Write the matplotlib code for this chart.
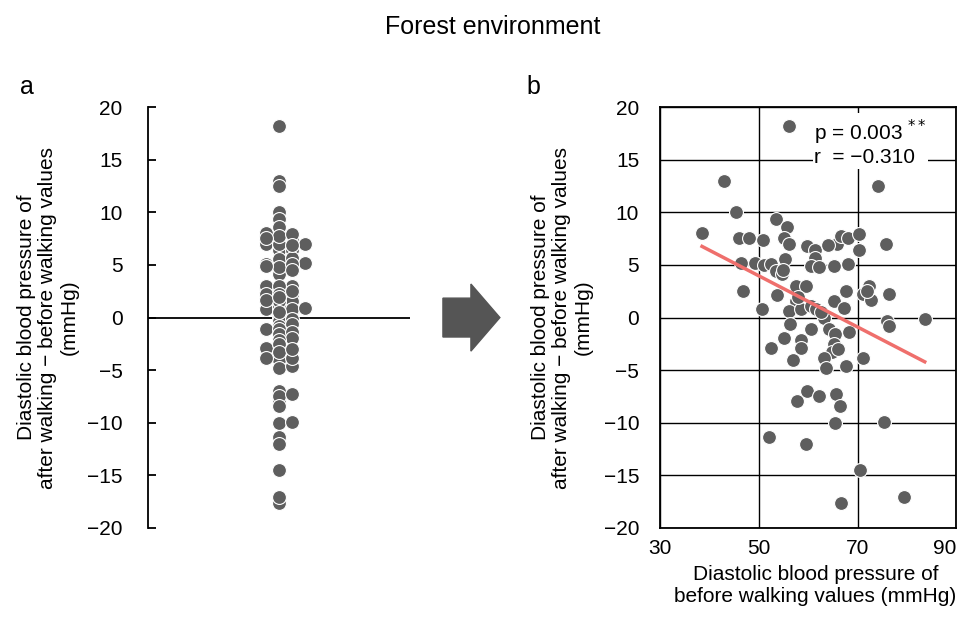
import numpy as np
import matplotlib
matplotlib.use('Agg')
import matplotlib.pyplot as plt
from matplotlib.patches import FancyArrow

plt.rcParams['font.family'] = ['Liberation Sans', 'DejaVu Sans']

# diastolic BP before walking (mmHg)
before = [56.1, 42.9, 74.2, 45.4, 38.5, 53.4, 55.8, 45.9, 48.0, 50.9,
          55.1, 56.1, 75.8, 59.8, 61.4, 65.9, 66.6, 68.0, 70.3, 70.3,
          46.3, 49.3, 51.0, 52.4, 53.4, 54.7, 55.4, 61.3, 60.5, 62.1,
          65.2, 68.0, 46.8, 50.7, 53.7, 57.5, 59.5, 57.5, 56.1, 58.5,
          60.5, 61.5, 63.2, 65.2, 67.6, 67.3, 71.0, 72.4, 72.7, 76.4,
          75.9, 76.3, 83.6, 56.4, 60.5, 64.2, 65.5, 68.3, 55.1, 58.5,
          58.5, 52.5, 57.0, 65.2, 64.9, 63.2, 63.6, 67.6, 71.0, 57.8,
          59.8, 62.2, 65.7, 66.5, 65.5, 75.4, 52.0, 59.5, 70.5, 66.6,
          79.5, 55.0, 58.0, 62.5, 66.0, 72.0, 64.0]

# after - before difference (mmHg)
diff = [18.2, 13.0, 12.5, 10.0, 8.0, 9.4, 8.6, 7.6, 7.6, 7.4,
        7.6, 7.0, 7.0, 6.8, 6.4, 7.0, 7.8, 7.6, 7.9, 6.4,
        5.2, 5.2, 5.0, 5.1, 4.4, 4.1, 5.6, 5.7, 4.9, 4.8,
        4.9, 5.1, 2.5, 0.8, 2.1, 3.0, 3.0, 1.6, 0.6, 0.8,
        1.1, 0.8, 0.0, 1.6, 2.5, 0.9, 2.2, 3.0, 1.7, 2.2,
        -0.3, -0.8, -0.1, -0.6, -1.1, -1.1, -1.6, -1.4, -1.9, -2.1,
        -2.9, -2.9, -4.0, -2.5, -3.3, -3.8, -4.8, -4.6, -3.8, -7.9,
        -7.0, -7.5, -7.3, -8.4, -10.0, -9.9, -11.4, -12.0, -14.5, -17.6,
        -17.1, 4.5, 2.0, 0.5, -3.0, 2.5, 6.9]

p_text = 'p = 0.003 $^{**}$'
r_text = 'r  = \u22120.310'
ylabel = 'Diastolic blood pressure of\nafter walking \u2212 before walking values\n(mmHg)'
xlabel = 'Diastolic blood pressure of\nbefore walking values (mmHg)'
yticks = list(range(-20, 21, 5))
xticks = [30, 50, 70, 90]

dot_color = '#5e5e5e'
fs = 15

fig = plt.figure(figsize=(9.65, 6.27), dpi=100)
fig.text(0.511, 0.957, 'Forest environment', ha='center', va='center', fontsize=18)

# ---- panel a: dot plot (simple swarm, 3 columns, 4th only when crowded)
ax1 = fig.add_axes([0.153, 0.158, 0.272, 0.671])
y = np.array(diff)
order = np.argsort(y)
cols = [0, 1, -1]
last = {c: None for c in cols + [2]}
xpos = np.zeros(len(y))
gap = 0.3
for i in order:
    chosen = None
    for c in cols:
        if last[c] is None or y[i] - last[c] >= gap:
            chosen = c
            break
    if chosen is None:
        gaps = {c: y[i] - last[c] for c in cols}
        chosen = max(gaps, key=gaps.get)
        if gaps[chosen] < 0.12 and (last[2] is None or y[i] - last[2] >= 1.0):
            chosen = 2
    last[chosen] = y[i]
    xpos[i] = chosen * 0.1

ax1.scatter(xpos, y, s=100, color=dot_color, edgecolor='white', linewidth=0.8, zorder=3)
ax1.axhline(0, color='black', lw=1.3, zorder=1)
ax1.set_xlim(-1, 1)
ax1.set_ylim(-20, 20)
ax1.set_yticks(yticks)
ax1.set_yticklabels([str(v).replace('-', '\u2212') for v in yticks])
ax1.set_xticks([])
for s in ['top', 'right', 'bottom']:
    ax1.spines[s].set_visible(False)
ax1.spines['left'].set_linewidth(1.3)
ax1.tick_params(axis='y', direction='in', length=6, width=1.3, labelsize=fs, pad=18)
ax1.set_ylabel(ylabel, fontsize=fs, labelpad=6, linespacing=1.15)
fig.text(0.028, 0.862, 'a', fontsize=18, ha='center', va='center')

# ---- arrow between panels
fig.patches.append(FancyArrow(0.459, 0.4935, 0.059, 0, width=0.062, head_width=0.107,
                              head_length=0.03, length_includes_head=True,
                              color='#555555', transform=fig.transFigure, figure=fig))

# ---- panel b: scatter
ax2 = fig.add_axes([0.684, 0.158, 0.307, 0.671])
ax2.scatter(before, diff, s=100, color=dot_color, edgecolor='white', linewidth=0.8, zorder=3)
k, b = np.polyfit(before, diff, 1)
xs = np.array([min(before), max(before)])
ax2.plot(xs, k * xs + b, color='#ef6f6c', lw=2.5, zorder=4)
ax2.set_xlim(30, 90)
ax2.set_ylim(-20, 20)
ax2.set_xticks(xticks)
ax2.set_yticks(yticks)
ax2.set_yticklabels([str(v).replace('-', '\u2212') for v in yticks])
ax2.grid(True, color='black', lw=1.0, zorder=0)
ax2.set_axisbelow(True)
for s in ax2.spines.values():
    s.set_linewidth(1.3)
ax2.tick_params(length=0, labelsize=fs)
ax2.tick_params(axis='y', pad=15)
ax2.tick_params(axis='x', pad=8)
# last label pulled inside the figure edge
ax2.get_xticklabels()[-1].set_horizontalalignment('right')
ax2.set_ylabel(ylabel, fontsize=fs, labelpad=8, linespacing=1.15)
ax2.set_xlabel(xlabel, fontsize=fs, labelpad=5, linespacing=1.2, x=0.525)
ax2.text(0.52, 0.975, p_text + '\n' + r_text, transform=ax2.transAxes, fontsize=fs,
         va='top', ha='left', linespacing=1.1,
         bbox=dict(facecolor='white', edgecolor='none', pad=1), zorder=5)
fig.text(0.553, 0.862, 'b', fontsize=18, ha='center', va='center')

fig.savefig('out.png', dpi=100)
